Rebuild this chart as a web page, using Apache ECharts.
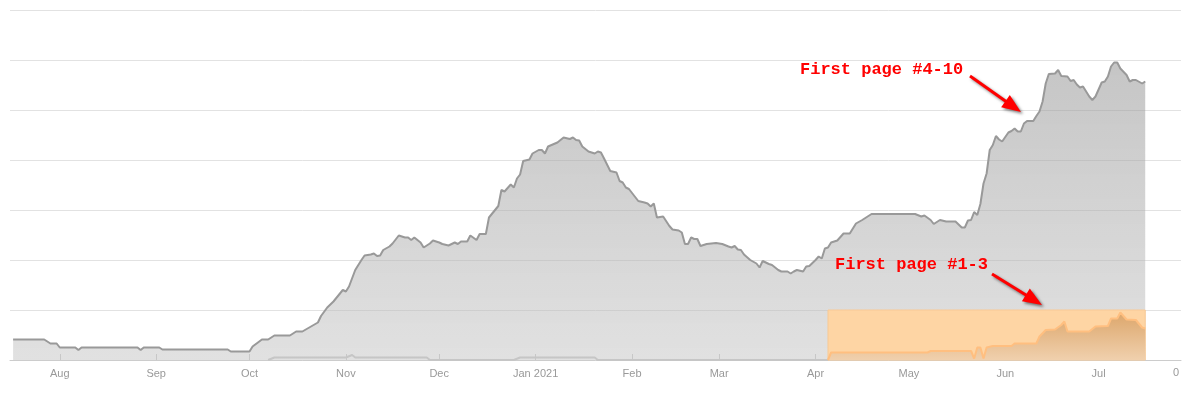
<!DOCTYPE html>
<html><head><meta charset="utf-8">
<script src="https://cdn.jsdelivr.net/npm/echarts@6/dist/echarts.min.js"></script>
<style>html,body{margin:0;padding:0;background:#fff}#c{width:1200px;height:400px}</style>
</head><body><div id="c"></div>
<script>
// ---- tick labels ----
const monthTicks = ['2020-08-01','2020-09-01','2020-10-01','2020-11-01','2020-12-01','2021-01-01','2021-02-01','2021-03-01','2021-04-01','2021-05-01','2021-06-01','2021-07-01'];
const monthLabels = ['Aug','Sep','Oct','Nov','Dec','Jan 2021','Feb','Mar','Apr','May','Jun','Jul'];

// ---- series: First page #4-10 (gray) ----
const rank410Dates = ['2020-07-17','2020-07-27','2020-07-29','2020-07-31','2020-08-01','2020-08-06','2020-08-07','2020-08-08','2020-08-26','2020-08-27','2020-08-28','2020-09-02','2020-09-03','2020-09-24','2020-09-25','2020-10-01','2020-10-02','2020-10-05','2020-10-07','2020-10-09','2020-10-14','2020-10-16','2020-10-18','2020-10-23','2020-10-24','2020-10-26','2020-10-28','2020-10-31','2020-11-01','2020-11-02','2020-11-04','2020-11-06','2020-11-07','2020-11-09','2020-11-10','2020-11-11','2020-11-12','2020-11-13','2020-11-15','2020-11-16','2020-11-18','2020-11-20','2020-11-21','2020-11-22','2020-11-23','2020-11-25','2020-11-26','2020-11-28','2020-11-29','2020-12-01','2020-12-02','2020-12-04','2020-12-06','2020-12-07','2020-12-08','2020-12-10','2020-12-11','2020-12-13','2020-12-14','2020-12-16','2020-12-17','2020-12-20','2020-12-21','2020-12-22','2020-12-24','2020-12-25','2020-12-26','2020-12-27','2020-12-28','2020-12-30','2020-12-31','2021-01-02','2021-01-03','2021-01-04','2021-01-05','2021-01-08','2021-01-10','2021-01-12','2021-01-13','2021-01-14','2021-01-15','2021-01-16','2021-01-18','2021-01-20','2021-01-21','2021-01-22','2021-01-23','2021-01-25','2021-01-27','2021-01-28','2021-01-29','2021-01-30','2021-01-31','2021-02-03','2021-02-05','2021-02-06','2021-02-07','2021-02-08','2021-02-09','2021-02-11','2021-02-13','2021-02-14','2021-02-16','2021-02-17','2021-02-18','2021-02-19','2021-02-20','2021-02-21','2021-02-22','2021-02-23','2021-02-25','2021-02-28','2021-03-02','2021-03-04','2021-03-05','2021-03-06','2021-03-07','2021-03-08','2021-03-09','2021-03-11','2021-03-13','2021-03-14','2021-03-15','2021-03-17','2021-03-18','2021-03-20','2021-03-21','2021-03-23','2021-03-24','2021-03-25','2021-03-26','2021-03-28','2021-03-29','2021-03-30','2021-04-01','2021-04-02','2021-04-03','2021-04-04','2021-04-05','2021-04-06','2021-04-08','2021-04-10','2021-04-12','2021-04-14','2021-04-16','2021-04-19','2021-05-03','2021-05-05','2021-05-06','2021-05-08','2021-05-09','2021-05-11','2021-05-13','2021-05-16','2021-05-18','2021-05-19','2021-05-20','2021-05-21','2021-05-22','2021-05-23','2021-05-24','2021-05-25','2021-05-26','2021-05-27','2021-05-28','2021-05-29','2021-05-30','2021-05-31','2021-06-02','2021-06-03','2021-06-04','2021-06-05','2021-06-06','2021-06-07','2021-06-08','2021-06-10','2021-06-11','2021-06-12','2021-06-13','2021-06-14','2021-06-15','2021-06-17','2021-06-18','2021-06-19','2021-06-21','2021-06-22','2021-06-23','2021-06-24','2021-06-25','2021-06-26','2021-06-28','2021-06-29','2021-06-30','2021-07-02','2021-07-03','2021-07-04','2021-07-05','2021-07-06','2021-07-07','2021-07-08','2021-07-10','2021-07-11','2021-07-12','2021-07-13','2021-07-15','2021-07-16'];
const rank410Values = [4.1,4.1,3.3,3.3,2.5,2.5,2.0,2.5,2.5,2.0,2.5,2.5,2.1,2.1,1.7,1.7,2.7,4.1,4.1,4.9,4.9,5.7,5.7,7.5,8.8,10.5,11.7,14.0,13.7,14.7,18.0,20.0,20.9,21.1,21.3,20.8,20.9,22.0,22.7,23.3,24.9,24.5,24.5,24.0,24.5,23.5,22.5,23.3,23.9,23.5,23.2,22.9,23.5,23.2,23.7,23.7,24.9,24.0,25.2,25.2,28.5,30.8,34.0,33.7,35.1,34.5,36.3,37.1,39.8,40.1,41.3,42.0,42.0,41.3,42.7,43.5,44.5,44.2,44.5,44.0,43.9,42.7,41.7,41.3,41.7,41.5,40.3,37.8,37.5,35.8,35.5,34.5,34.2,31.8,31.5,31.3,30.7,31.3,28.5,28.7,26.8,26.1,25.9,25.5,23.2,23.2,24.5,24.2,24.2,22.8,23.2,23.4,23.2,22.7,22.5,22.8,22.1,22.0,21.1,20.0,19.3,18.5,19.8,19.2,19.0,18.0,17.7,17.7,17.3,17.7,18.0,17.7,18.7,18.8,20.0,20.7,20.3,22.3,22.5,23.5,23.9,25.3,25.3,27.3,28.0,29.2,29.2,28.7,28.9,28.0,27.2,28.0,27.7,27.7,26.5,26.5,27.9,28.0,29.6,29.0,31.2,35.3,37.3,42.0,43.0,44.8,44.1,43.7,45.5,45.8,46.3,45.7,45.7,47.3,47.8,47.8,48.8,49.7,51.7,55.3,57.2,57.3,58.0,56.8,56.7,55.8,56.0,55.1,54.5,54.7,52.7,52.0,52.7,55.5,55.7,56.7,58.7,59.5,59.5,58.3,57.0,55.7,56.0,56.0,55.3,55.7];

// ---- series: First page #1-3, before highlight (gray thin line) ----
const rank13EarlyDates = ['2020-10-07','2020-10-09','2020-11-01','2020-11-03','2020-11-04','2020-11-27','2020-11-28','2020-12-25','2020-12-27','2021-01-20','2021-01-21','2021-04-05'];
const rank13EarlyValues = [0,0.5,0.5,1.0,0.5,0.5,0,0,0.5,0.5,0,0];

// ---- series: First page #1-3 (orange) ----
const rank13Dates = ['2021-04-05','2021-04-06','2021-05-07','2021-05-08','2021-05-21','2021-05-22','2021-05-23','2021-05-24','2021-05-25','2021-05-26','2021-05-28','2021-06-03','2021-06-04','2021-06-11','2021-06-12','2021-06-14','2021-06-17','2021-06-19','2021-06-20','2021-06-21','2021-06-28','2021-06-30','2021-07-04','2021-07-05','2021-07-07','2021-07-08','2021-07-10','2021-07-13','2021-07-15','2021-07-16'];
const rank13Values = [0,1.5,1.5,1.8,1.8,0.3,2.5,2.5,0.3,2.5,2.8,2.8,3.3,3.3,4.7,6.0,6.1,7.0,7.7,5.7,5.7,6.7,6.8,8.3,8.3,9.5,8.1,8.0,6.5,6.3];

// highlighted band for First page #1-3
const bandStart = '2021-04-05', bandEnd = '2021-07-16', bandTop = 10;
const axisStart = '2020-07-16', axisEnd = '2021-07-27';

function ts(s){ const p = s.split('-').map(Number); return new Date(p[0], p[1]-1, p[2]).getTime(); }
function pairs(d, v){ return d.map((x,i)=>[ts(x), v[i]]); }

const tickTs = monthTicks.map(ts);
const labelMap = {}; tickTs.forEach((t,i)=>labelMap[t]=monthLabels[i]);

const chart = echarts.init(document.getElementById('c'), null, {renderer:'canvas'});

const shadow = {shadowBlur:3, shadowColor:'rgba(0,0,0,0.5)', shadowOffsetX:2, shadowOffsetY:2};
function arrow(x1,y1,x2,y2){
  const dx=x2-x1, dy=y2-y1, L=Math.hypot(dx,dy), ux=dx/L, uy=dy/L, hl=19, hw=7.5;
  const bx=x2-ux*hl, by=y2-uy*hl;
  return {type:'group', z:100, children:[
    {type:'line', z:100, shape:{x1:x1,y1:y1,x2:bx+ux*2,y2:by+uy*2}, style:Object.assign({stroke:'#ff0000', lineWidth:3}, shadow)},
    {type:'polygon', z:100, shape:{points:[[x2,y2],[bx-uy*hw, by+ux*hw],[bx+uy*hw, by-ux*hw]]}, style:Object.assign({fill:'#ff0000'}, shadow)}
  ]};
}

chart.setOption({
  animation:false,
  grid:{left:10, right:19, top:10, bottom:40},
  xAxis:{
    type:'value', min:ts(axisStart), max:ts(axisEnd)+12*3600*1000,
    axisLine:{lineStyle:{color:'#cccccc', width:1}},
    axisTick:{inside:true, length:6, lineStyle:{color:'#cccccc'}, customValues:tickTs},
    axisLabel:{customValues:tickTs, color:'#999999', fontSize:11, fontFamily:'Liberation Sans, Arial, sans-serif', margin:8,
      formatter:function(v){ return labelMap[v] !== undefined ? labelMap[v] : ''; }},
    splitLine:{show:false}
  },
  yAxis:{
    type:'value', min:0, max:70, interval:10,
    axisLabel:{show:false}, axisLine:{show:false}, axisTick:{show:false},
    splitLine:{lineStyle:{color:'#e2e2e2'}}
  },
  series:[
    {name:'First page #4-10', type:'line', z:1, data:pairs(rank410Dates, rank410Values), symbol:'none',
      lineStyle:{color:'#999999', width:2},
      areaStyle:{opacity:1, color:new echarts.graphic.LinearGradient(0,0,0,1,[{offset:0,color:'rgba(150,150,150,0.55)'},{offset:1,color:'rgba(195,195,195,0.5)'}])}
    },
    {name:'First page #1-3 early', type:'line', z:2, data:pairs(rank13EarlyDates, rank13EarlyValues), symbol:'none',
      lineStyle:{color:'#c6c6c6', width:2}
    },
    {name:'band', type:'line', z:3, data:[], symbol:'none',
      markArea:{silent:true, z:3, itemStyle:{color:'#fed5a4', opacity:1, borderColor:'#f8c995', borderWidth:1},
        data:[[{xAxis:ts(bandStart), yAxis:0},{xAxis:ts(bandEnd), yAxis:bandTop}]]}
    },
    {name:'First page #1-3', type:'line', z:4, data:pairs(rank13Dates, rank13Values), symbol:'none',
      lineStyle:{color:'#ffbf80', width:2},
      areaStyle:{opacity:1, color:new echarts.graphic.LinearGradient(0,0,0,1,[{offset:0,color:'#dca66b'},{offset:1,color:'#f0d0ad'}])}
    }
  ],
  graphic:[
    {type:'text', left:800, top:61, z:100, style:{text:'First page #4-10', fill:'#ff0000', font:'bold 17px "Liberation Mono", "DejaVu Sans Mono", monospace'}},
    {type:'text', left:835, top:256, z:100, style:{text:'First page #1-3', fill:'#ff0000', font:'bold 17px "Liberation Mono", "DejaVu Sans Mono", monospace'}},
    arrow(970,76,1021,112),
    arrow(992,274,1042,305),
    {type:'text', x:1176, y:367, z:100, style:{text:'0', fill:'#999999', font:'11px "Liberation Sans", Arial, sans-serif', textAlign:'center'}}
  ]
});
</script>
</body></html>
